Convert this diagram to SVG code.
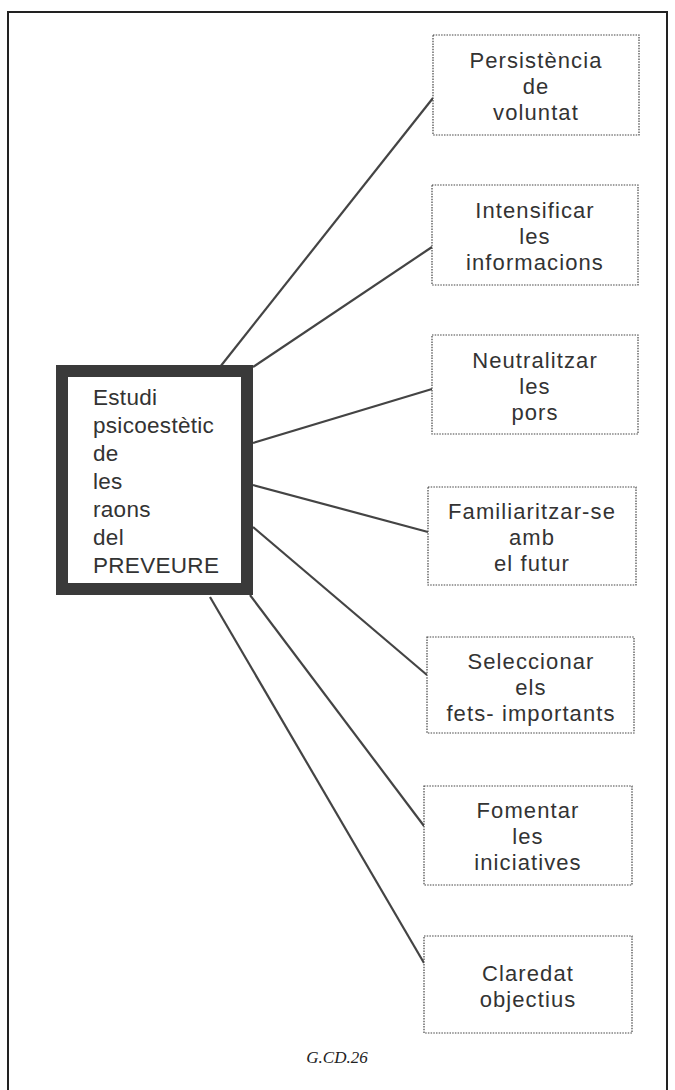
<svg xmlns="http://www.w3.org/2000/svg" width="675" height="1090" viewBox="0 0 675 1090">
<style>
.frame{fill:none;stroke:#222;stroke-width:2}
.box{fill:#fff;stroke:#444;stroke-width:1.2;stroke-dasharray:1.5 1.2}
.main{fill:#fff;stroke:#3a3a3a;stroke-width:12}
.t{font-family:"Liberation Sans",Arial,sans-serif;font-size:22px;fill:#333;text-anchor:middle;letter-spacing:1.1px}
.mt{font-family:"Liberation Sans",Arial,sans-serif;font-size:22.5px;fill:#333;letter-spacing:0.3px}
.cap{font-family:"Liberation Serif","Times New Roman",serif;font-size:17px;font-style:italic;fill:#222;text-anchor:middle}
.c{stroke:#444;stroke-width:2.2;fill:none}
</style>
<rect width="675" height="1090" fill="#fff"/>
<path class="frame" d="M8,1090 V12 H667 V1090"/>
<g id="connectors">
<line class="c" x1="220" y1="367" x2="433" y2="98"/>
<line class="c" x1="253" y1="367" x2="432" y2="247"/>
<line class="c" x1="253" y1="443" x2="432" y2="389"/>
<line class="c" x1="253" y1="485" x2="428" y2="532"/>
<line class="c" x1="253" y1="527" x2="427" y2="675"/>
<line class="c" x1="250" y1="595" x2="424" y2="826"/>
<line class="c" x1="210" y1="597" x2="424" y2="963"/>
</g>
<g id="main">
<rect class="main" x="62" y="371" width="185" height="218"/>
<text class="mt"><tspan x="93" y="405">Estudi</tspan><tspan x="93" y="433">psicoestètic</tspan><tspan x="93" y="461">de</tspan><tspan x="93" y="489">les</tspan><tspan x="93" y="517">raons</tspan><tspan x="93" y="545">del</tspan><tspan x="93" y="573">PREVEURE</tspan></text>
</g>
<g id="n1">
<rect class="box" x="433" y="35" width="206" height="100"/>
<text class="t"><tspan x="536" y="68">Persistència</tspan><tspan x="536" y="94">de</tspan><tspan x="536" y="120">voluntat</tspan></text>
</g>
<g id="n2">
<rect class="box" x="432" y="185" width="206" height="100"/>
<text class="t"><tspan x="535" y="218">Intensificar</tspan><tspan x="535" y="244">les</tspan><tspan x="535" y="270">informacions</tspan></text>
</g>
<g id="n3">
<rect class="box" x="432" y="335" width="206" height="99"/>
<text class="t"><tspan x="535" y="368">Neutralitzar</tspan><tspan x="535" y="394">les</tspan><tspan x="535" y="420">pors</tspan></text>
</g>
<g id="n4">
<rect class="box" x="428" y="487" width="208" height="98"/>
<text class="t"><tspan x="532" y="519">Familiaritzar-se</tspan><tspan x="532" y="545">amb</tspan><tspan x="532" y="571">el futur</tspan></text>
</g>
<g id="n5">
<rect class="box" x="427" y="637" width="207" height="96"/>
<text class="t"><tspan x="531" y="669">Seleccionar</tspan><tspan x="531" y="695">els</tspan><tspan x="531" y="721">fets- importants</tspan></text>
</g>
<g id="n6">
<rect class="box" x="424" y="786" width="208" height="99"/>
<text class="t"><tspan x="528" y="818">Fomentar</tspan><tspan x="528" y="844">les</tspan><tspan x="528" y="870">iniciatives</tspan></text>
</g>
<g id="n7">
<rect class="box" x="424" y="936" width="208" height="97"/>
<text class="t"><tspan x="528" y="981">Claredat</tspan><tspan x="528" y="1007">objectius</tspan></text>
</g>
<text class="cap" x="337" y="1063">G.CD.26</text>
</svg>
